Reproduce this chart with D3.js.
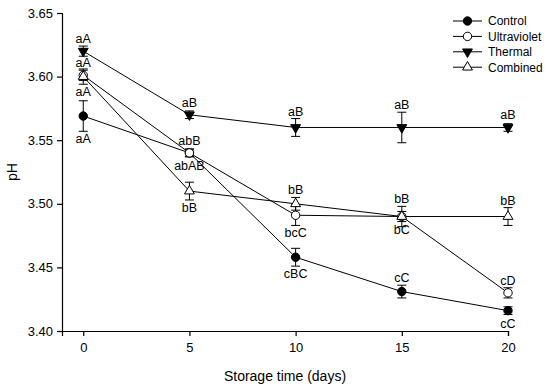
<!DOCTYPE html>
<html>
<head>
<meta charset="utf-8">
<script src="https://cdn.jsdelivr.net/npm/d3@7"></script>
<style>
  body { margin: 0; background: #fff; }
  svg text { font-family: "Liberation Sans", Arial, sans-serif; fill: #000; }
</style>
</head>
<body>
<div id="chart"></div>
<script>
// --- Data ---
const days = [0, 5, 10, 15, 20];
const seriesNames = ['Control', 'Ultraviolet', 'Thermal', 'Combined'];

const controlPH = [3.569, 3.540, 3.458, 3.431, 3.416];
const uvPH = [3.601, 3.540, 3.491, 3.490, 3.430];
const thermalPH = [3.620, 3.570, 3.560, 3.560, 3.560];
const combinedPH = [3.600, 3.510, 3.500, 3.490, 3.490];

const controlErr = [0.012, 0.003, 0.007, 0.005, 0.003];
const uvErr = [0.004, 0.003, 0.008, 0.004, 0.004];
const thermalErr = [0.004, 0.003, 0.007, 0.012, 0.003];
const combinedErr = [0.006, 0.007, 0.005, 0.008, 0.007];

const controlLetters = ['aA', 'abAB', 'cBC', 'cC', 'cC'];
const uvLetters = ['aA', 'abB', 'bcC', 'bC', 'cD'];
const thermalLetters = ['aA', 'aB', 'aB', 'aB', 'aB'];
const combinedLetters = ['aA', 'bB', 'bB', 'bB', 'bB'];

// where each letter sits: 1 = above the point, -1 = below
const controlSide = [-1, -1, -1, 1, -1];
const uvSide = [1, 1, -1, -1, 1];
const thermalSide = [1, 1, 1, 1, 1];
const combinedSide = [-1, -1, 1, 1, 1];

const yTicks = [3.40, 3.45, 3.50, 3.55, 3.60, 3.65];
const xTicks = [0, 5, 10, 15, 20];

// --- Layout ---
const width = 550;
const height = 388;
const margin = { left: 62, top: 13, right: 42, bottom: 57 };

const series = [
  { name: seriesNames[0], values: controlPH, err: controlErr, letters: controlLetters, side: controlSide, shape: 'circle', filled: true },
  { name: seriesNames[1], values: uvPH, err: uvErr, letters: uvLetters, side: uvSide, shape: 'circle', filled: false },
  { name: seriesNames[2], values: thermalPH, err: thermalErr, letters: thermalLetters, side: thermalSide, shape: 'down', filled: true },
  { name: seriesNames[3], values: combinedPH, err: combinedErr, letters: combinedLetters, side: combinedSide, shape: 'up', filled: false }
];

const svg = d3.select('#chart').append('svg')
  .attr('width', width)
  .attr('height', height);

const x = d3.scaleLinear().domain([-1, 20]).range([margin.left, width - margin.right]);
const y = d3.scaleLinear().domain([3.40, 3.65]).range([height - margin.bottom, margin.top]);

// --- Axes ---
const yAxis = svg.append('g')
  .attr('transform', `translate(${margin.left},0)`)
  .call(d3.axisLeft(y).tickValues(yTicks).tickFormat(d3.format('.2f')).tickSizeOuter(0).tickSize(5).tickPadding(4));

const xAxis = svg.append('g')
  .attr('transform', `translate(0,${height - margin.bottom})`)
  .call(d3.axisBottom(x).tickValues(xTicks).tickSizeOuter(0).tickSize(5).tickPadding(7));

[xAxis, yAxis].forEach(a => {
  a.select('.domain').attr('stroke', '#000').attr('stroke-width', 1.2);
  a.selectAll('.tick line').attr('stroke', '#000').attr('stroke-width', 1.2);
  a.selectAll('.tick text').attr('font-size', 13).attr('font-family', '"Liberation Sans", Arial, sans-serif');
});

svg.append('text')
  .attr('transform', `translate(17,${(margin.top + height - margin.bottom) / 2}) rotate(-90)`)
  .attr('text-anchor', 'middle')
  .attr('font-size', 14)
  .text('pH');

svg.append('text')
  .attr('x', (margin.left + width - margin.right) / 2)
  .attr('y', 381)
  .attr('text-anchor', 'middle')
  .attr('font-size', 14)
  .text('Storage time (days)');

// --- Marker helper ---
function marker(g, s, cx, cy) {
  let m;
  if (s.shape === 'circle') {
    m = g.append('circle').attr('cx', cx).attr('cy', cy).attr('r', 4.2);
  } else {
    const sym = d3.symbol().type(d3.symbolTriangle).size(42);
    const rot = s.shape === 'down' ? 180 : 0;
    m = g.append('path').attr('d', sym())
      .attr('transform', `translate(${cx},${cy}) rotate(${rot})`);
  }
  m.attr('fill', s.filled ? '#000' : '#fff').attr('stroke', '#000').attr('stroke-width', 1);
}

// --- Lines ---
const line = d3.line().x((d, i) => x(days[i])).y(d => y(d));
series.forEach(s => {
  svg.append('path')
    .datum(s.values)
    .attr('d', line)
    .attr('fill', 'none')
    .attr('stroke', '#000')
    .attr('stroke-width', 1);
});

// --- Error bars ---
series.forEach(s => {
  const g = svg.append('g').attr('stroke', '#000').attr('stroke-width', 1);
  s.values.forEach((v, i) => {
    const cx = x(days[i]);
    const y0 = y(v + s.err[i]);
    const y1 = y(v - s.err[i]);
    g.append('line').attr('x1', cx).attr('x2', cx).attr('y1', y0).attr('y2', y1);
    g.append('line').attr('x1', cx - 4.5).attr('x2', cx + 4.5).attr('y1', y0).attr('y2', y0);
    g.append('line').attr('x1', cx - 4.5).attr('x2', cx + 4.5).attr('y1', y1).attr('y2', y1);
  });
});

// --- Markers ---
series.forEach(s => {
  const g = svg.append('g');
  s.values.forEach((v, i) => marker(g, s, x(days[i]), y(v)));
});

// --- Letters ---
series.forEach(s => {
  s.values.forEach((v, i) => {
    const cy = y(v);
    const off = Math.max(y(3.40) - y(3.40 + s.err[i]), 5);
    const ty = s.side[i] > 0 ? cy - off - 3 : cy + off + 12;
    svg.append('text')
      .attr('x', x(days[i]))
      .attr('y', ty)
      .attr('text-anchor', 'middle')
      .attr('font-size', 12.5)
      .text(s.letters[i]);
  });
});

// --- Legend ---
const legend = svg.append('g').attr('transform', 'translate(453,21)');
series.forEach((s, i) => {
  const row = legend.append('g').attr('transform', `translate(0,${i * 15.4})`);
  row.append('line').attr('x1', 0).attr('x2', 29).attr('y1', 0).attr('y2', 0)
    .attr('stroke', '#000').attr('stroke-width', 1);
  marker(row, s, 14.5, 0);
  row.append('text').attr('x', 35).attr('y', 4.3).attr('font-size', 12).text(s.name);
});
</script>
</body>
</html>
